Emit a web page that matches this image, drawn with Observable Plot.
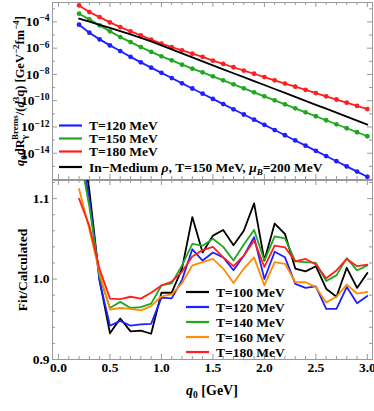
<!DOCTYPE html>
<html><head><meta charset="utf-8">
<script src="https://cdn.jsdelivr.net/npm/d3@7"></script>
<script src="https://cdn.jsdelivr.net/npm/@observablehq/plot@0.6"></script>
<style>
html,body{margin:0;padding:0;background:#fff;}
#chart{width:374px;}
#chart svg{display:block;}
</style></head><body><div id="chart"></div>
<script>
// ---- data ----
const q0 = [0.2,0.3,0.4,0.5,0.6,0.7,0.8,0.9,1.0,1.1,1.2,1.3,1.4,1.5,1.6,1.7,1.8,1.9,2.0,2.1,2.2,2.3,2.4,2.5,2.6,2.7,2.8,2.9,3.0];
const rate120 = [6.12e-5,1.51e-5,4.67e-6,1.63e-6,6.01e-7,2.18e-7,8.32e-8,3.29e-8,1.32e-8,5.32e-9,2.10e-9,8.47e-10,3.40e-10,1.37e-10,5.51e-11,2.22e-11,8.93e-12,3.59e-12,1.45e-12,5.81e-13,2.34e-13,9.40e-14,3.78e-14,1.52e-14,6.12e-15,2.47e-15,9.91e-16,3.99e-16,1.60e-16];
const rate150 = [4.21e-4,1.55e-4,5.42e-5,1.90e-5,6.98e-6,2.91e-6,1.21e-6,5.24e-7,2.38e-7,1.18e-7,5.56e-8,2.76e-8,1.45e-8,7.18e-9,3.56e-9,1.77e-9,8.77e-10,4.36e-10,2.16e-10,1.07e-10,5.32e-11,2.64e-11,1.31e-11,6.52e-12,3.24e-12,1.60e-12,7.96e-13,3.95e-13,1.96e-13];
const rate180 = [1.80e-3,5.56e-4,2.32e-4,9.16e-5,4.03e-5,1.90e-5,9.4e-6,4.43e-6,2.20e-6,1.21e-6,6.81e-7,3.82e-7,2.18e-7,1.12e-7,6.28e-8,3.53e-8,1.98e-8,1.13e-8,6.34e-9,3.56e-9,2.03e-9,1.16e-9,6.62e-10,3.78e-10,2.16e-10,1.23e-10,7.05e-11,4.03e-11,2.30e-11];
const rateMedium = [1.75e-4,1.04e-4,6.02e-5,3.50e-5,2.00e-5,1.12e-5,6.18e-6,3.29e-6,1.63e-6,8.11e-7,4.03e-7,2.00e-7,9.91e-8,4.92e-8,2.44e-8,1.23e-8,6.24e-9,3.09e-9,1.56e-9,7.76e-10,3.92e-10,1.95e-10,9.82e-11,4.88e-11,2.47e-11,1.22e-11,6.18e-12,3.07e-12,1.52e-12];

const ratio100 = [1.20,1.11,0.998,0.9325,0.951,0.935,0.936,0.932,0.983,0.983,1.013,1.077,1.033,1.054,1.061,1.042,1.060,1.094,1.023,1.069,1.056,1.013,1.0095,1.016,0.988,0.978,1.014,0.989,1.0075];
const ratio120 = [1.17,1.10,0.997,0.942,0.948,0.942,0.9436,0.9444,0.977,0.976,0.999,1.037,1.023,1.033,1.027,1.011,1.029,1.052,1.000,1.034,1.027,0.994,0.989,0.991,0.963,0.963,0.990,0.970,0.979];
const ratio140 = [1.16,1.09,1.003,0.964,0.9716,0.964,0.965,0.9695,0.992,0.9947,1.017,1.0436,1.0415,1.050,1.040,1.023,1.043,1.061,1.023,1.053,1.0507,1.022,1.021,1.020,0.9976,1.0046,1.026,1.0107,1.017];
const ratio160 = [1.112,1.062,1.007,0.962,0.964,0.963,0.961,0.9663,0.9786,0.981,0.995,1.017,1.021,1.025,1.013,0.995,1.013,1.027,0.992,1.021,1.019,0.996,0.996,0.990,0.971,0.978,0.993,0.982,0.984];
const ratio180 = [1.10,1.066,1.012,0.9757,0.975,0.978,0.9757,0.983,0.992,0.997,1.009,1.028,1.036,1.040,1.027,1.016,1.029,1.048,1.015,1.0415,1.0395,1.022,1.025,1.018,1.001,1.0107,1.025,1.016,1.018];

const xMajorTicks = [0,0.5,1.0,1.5,2.0,2.5,3.0];
const xMinorTicks = [0.1,0.2,0.3,0.4,0.6,0.7,0.8,0.9,1.1,1.2,1.3,1.4,1.6,1.7,1.8,1.9,2.1,2.2,2.3,2.4,2.6,2.7,2.8,2.9];
const topYMajorTicks = [1e-4,1e-6,1e-8,1e-10,1e-12,1e-14];
const topYMinorTicks = [1e-3,1e-5,1e-7,1e-9,1e-11,1e-13,1e-15];
const botYMajorTicks = [0.9,1.0,1.1];
const botYMinorTicks = [0.92,0.94,0.96,0.98,1.02,1.04,1.06,1.08,1.12];

const topLabels = ["T=120 MeV","T=150 MeV","T=180 MeV"];
const botLabels = ["T=100 MeV","T=120 MeV","T=140 MeV","T=160 MeV","T=180 MeV"];

// ---- style ----
const FONT = "Liberation Serif, Times New Roman, serif";
const FRAME = "#9a9a9a";
const BLUE = "#1f1fff", GREEN = "#1fa81f", RED = "#ff1f1f", ORANGE = "#ff8c00", BLACK = "#000000";

const rows = (ys) => q0.map((q, i) => ({q, v: ys[i]}));
const W = 374, ML = 52, MR = 2;
const FW = W - ML - MR;

function tickMarks(xMaj, xMin, yMaj, yMin, FH) {
  const st = {stroke: FRAME, strokeWidth: 1};
  return [
    Plot.tickX(xMaj, {...st, insetTop: FH - 5}),
    Plot.tickX(xMin, {...st, insetTop: FH - 3}),
    Plot.tickX(xMaj, {...st, insetBottom: FH - 5}),
    Plot.tickX(xMin, {...st, insetBottom: FH - 3}),
    Plot.tickY(yMaj, {...st, insetRight: FW - 5}),
    Plot.tickY(yMin, {...st, insetRight: FW - 3}),
    Plot.tickY(yMaj, {...st, insetLeft: FW - 5}),
    Plot.tickY(yMin, {...st, insetLeft: FW - 3})
  ];
}

const baseStyle = {fontFamily: FONT, fontSize: "13.5px", fontWeight: "bold", background: "white", color: "black", overflow: "visible"};

// ---- top panel ----
const TH = 180, TMT = 2, TMB = 1;
const topSvg = Plot.plot({
  width: W, height: TH, marginLeft: ML, marginRight: MR, marginTop: TMT, marginBottom: TMB,
  style: baseStyle,
  x: {domain: [-0.058, 3.05], axis: null},
  y: {type: "log", domain: [1e-16, 3.0e-3], axis: null},
  marks: [
    Plot.frame({stroke: FRAME}),
    ...tickMarks(xMajorTicks, xMinorTicks, topYMajorTicks, topYMinorTicks, TH - TMT - TMB),
    Plot.axisY(topYMajorTicks, {tickSize: 0, tickPadding: 3, label: null, tickFormat: d => "10^" + Math.round(Math.log10(d))}),
    Plot.line(rows(rate120), {x: "q", y: "v", stroke: BLUE, strokeWidth: 1.8}),
    Plot.dot(rows(rate120), {x: "q", y: "v", fill: BLUE, r: 2.4}),
    Plot.line(rows(rate150), {x: "q", y: "v", stroke: GREEN, strokeWidth: 1.8}),
    Plot.dot(rows(rate150), {x: "q", y: "v", fill: GREEN, r: 2.4}),
    Plot.line(rows(rate180), {x: "q", y: "v", stroke: RED, strokeWidth: 1.8}),
    Plot.dot(rows(rate180), {x: "q", y: "v", fill: RED, r: 2.4}),
    Plot.line(rows(rateMedium), {x: "q", y: "v", stroke: BLACK, strokeWidth: 1.8})
  ]
});

// ---- bottom panel ----
const BH = 232, BMT = 0, BMB = 53;
const botSvg = Plot.plot({
  width: W, height: BH, marginLeft: ML, marginRight: MR, marginTop: BMT, marginBottom: BMB,
  style: baseStyle,
  x: {domain: [-0.058, 3.05], axis: null},
  y: {domain: [0.9, 1.1225], axis: null},
  marks: [
    Plot.frame({stroke: FRAME}),
    ...tickMarks(xMajorTicks, xMinorTicks, botYMajorTicks, botYMinorTicks, BH - BMT - BMB),
    Plot.axisY(botYMajorTicks, {tickSize: 0, tickPadding: 3, label: null, tickFormat: d3.format(".1f")}),
    Plot.axisX(xMajorTicks, {tickSize: 0, tickPadding: 3, label: null, tickFormat: d3.format(".1f")}),
    Plot.line(rows(ratio100), {x: "q", y: "v", stroke: BLACK, strokeWidth: 1.8, clip: true}),
    Plot.line(rows(ratio120), {x: "q", y: "v", stroke: BLUE, strokeWidth: 1.8, clip: true}),
    Plot.line(rows(ratio140), {x: "q", y: "v", stroke: GREEN, strokeWidth: 1.8, clip: true}),
    Plot.line(rows(ratio160), {x: "q", y: "v", stroke: ORANGE, strokeWidth: 1.8, clip: true}),
    Plot.line(rows(ratio180), {x: "q", y: "v", stroke: RED, strokeWidth: 1.8, clip: true})
  ]
});

// superscript exponents on the log tick labels
d3.select(topSvg).selectAll('[aria-label="y-axis tick label"] text').each(function () {
  const parts = this.textContent.split("^");
  const t = d3.select(this);
  t.text(null);
  t.append("tspan").text(parts[0]);
  t.append("tspan").attr("dy", "-0.5em").attr("font-size", "9.5px").text(parts[1].replace("-", "\u2212"));
});

function addText(svg, attrs, parts) {
  const t = d3.select(svg).append("text")
    .attr("font-family", FONT).attr("font-weight", "bold").attr("fill", "black")
    .attr("text-anchor", "start");
  for (const k in attrs) t.attr(k, attrs[k]);
  for (const p of parts) {
    const s = t.append("tspan").text(p.t);
    if (p.i) s.attr("font-style", "italic");
    if (p.fs) s.attr("font-size", p.fs);
    if (p.dy) s.attr("dy", p.dy);
    if (p.dx) s.attr("dx", p.dx);
  }
  return t;
}

function addLegend(svg, items, x0, ys, fs) {
  items.forEach((it, i) => {
    const y = ys[i];
    d3.select(svg).append("line").attr("x1", x0).attr("x2", x0 + 23).attr("y1", y).attr("y2", y)
      .attr("stroke", it.color).attr("stroke-width", 2.2);
    addText(svg, {x: x0 + 30, y: y, dy: "0.35em", "font-size": fs}, it.parts);
  });
}

addLegend(topSvg, [
  {color: BLUE, parts: [{t: topLabels[0]}]},
  {color: GREEN, parts: [{t: topLabels[1]}]},
  {color: RED, parts: [{t: topLabels[2]}]},
  {color: BLACK, parts: [{t: "In\u2212Medium "}, {t: "\u03c1", i: true}, {t: ", T=150 MeV, "}, {t: "\u03bc", i: true},
    {t: "B", i: true, fs: "9px", dy: "3"}, {t: "=200 MeV", dy: "-3"}]}
], 59, [125.5, 138.5, 151.5, 167], "13.5px");

addLegend(botSvg, [
  {color: BLACK, parts: [{t: botLabels[0]}]},
  {color: BLUE, parts: [{t: botLabels[1]}]},
  {color: GREEN, parts: [{t: botLabels[2]}]},
  {color: ORANGE, parts: [{t: botLabels[3]}]},
  {color: RED, parts: [{t: botLabels[4]}]}
], 186, [112, 127, 142, 157, 172], "13.5px");

// axis titles
addText(topSvg, {transform: "translate(24,91) rotate(-90)", "text-anchor": "middle", "font-size": "12.5px"}, [
  {t: "q", i: true}, {t: "0", fs: "9px", dy: "3"}, {t: "dR", dy: "-3"},
  {t: "\u03b3", fs: "9px", dy: "3"}, {t: "Brems", fs: "9px", dy: "-9", dx: "-5"},
  {t: "/(", dy: "6"}, {t: "d", i: true}, {t: "3", fs: "9px", dy: "-5"}, {t: "q) [GeV", dy: "5"},
  {t: "\u22122", fs: "9px", dy: "-5"}, {t: "fm", dy: "5"}, {t: "\u22124", fs: "9px", dy: "-5"}, {t: "]", dy: "5"}
]);
addText(botSvg, {transform: "translate(27,90) rotate(-90)", "text-anchor": "middle", "font-size": "13.5px"}, [
  {t: "Fit/Calculated"}
]);
addText(botSvg, {x: 212, y: 215, "text-anchor": "middle", "font-size": "14px"}, [
  {t: "q", i: true}, {t: "0", fs: "9.5px", dy: "3"}, {t: " [GeV]", dy: "-3"}
]);

const chart = document.getElementById("chart");
chart.appendChild(topSvg);
chart.appendChild(botSvg);
</script></body></html>
